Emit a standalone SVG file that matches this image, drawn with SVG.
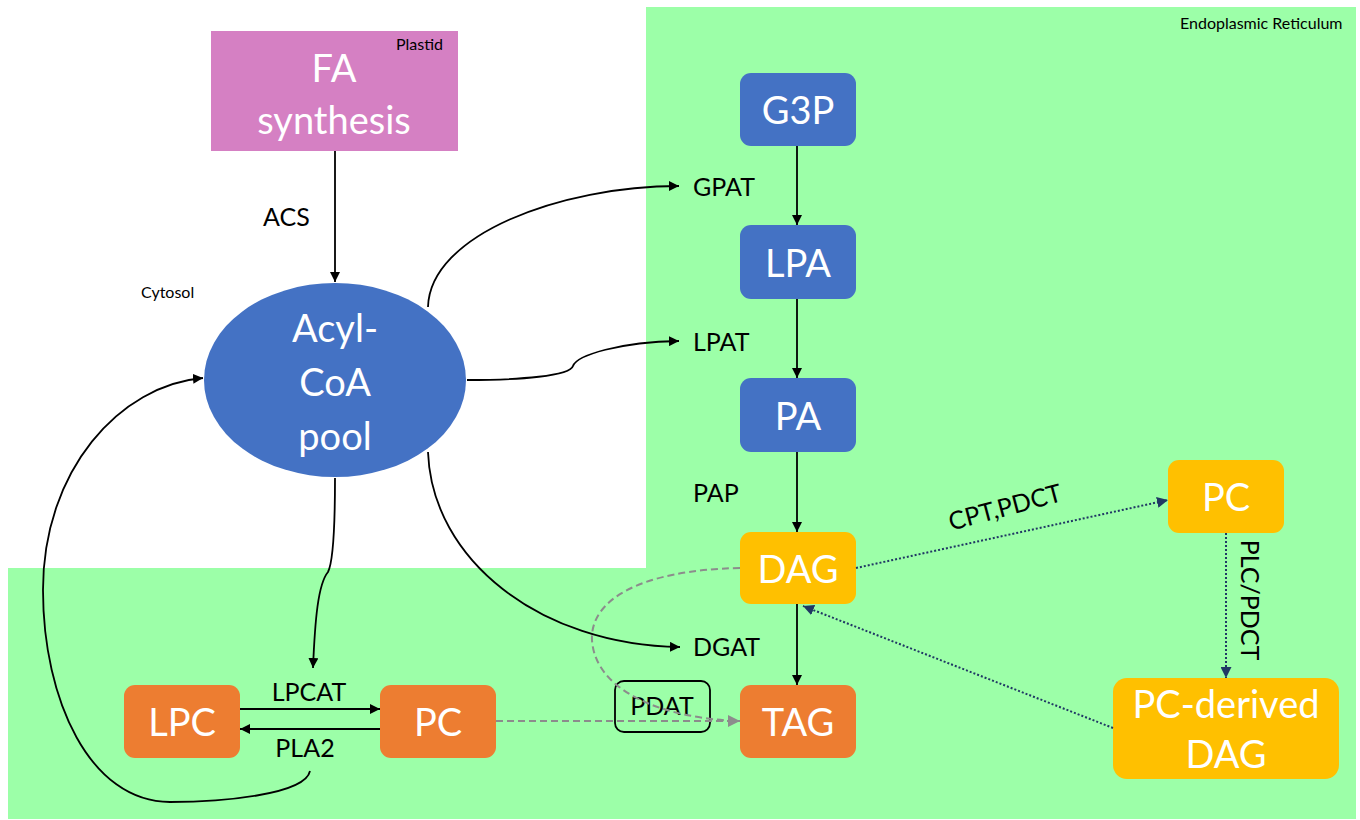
<svg xmlns="http://www.w3.org/2000/svg" width="1360" height="820" viewBox="0 0 1360 820">
<defs>
<style>
.t{font-family:Lato,"Open Sans","Liberation Sans",sans-serif;}
.nt{fill:#fff;font-size:38px;text-anchor:middle;}
.lb{fill:#000;font-size:25px;}
.sm{fill:#000;font-size:16px;}
.c{fill:none;stroke:#000;stroke-width:1.8;}
.dot{fill:none;stroke:#203864;stroke-width:2;stroke-dasharray:2 2;}
.dash{fill:none;stroke:#8c8c8c;stroke-width:2;stroke-dasharray:7 4;}
.blue{fill:#4472C4;}
.org{fill:#ED7D31;}
.yel{fill:#FFC000;}
</style>
<marker id="ab" viewBox="0 0 10 10" refX="10" refY="5" markerWidth="10" markerHeight="10" markerUnits="userSpaceOnUse" orient="auto"><path d="M0,0L10,5L0,10z" fill="#000"/></marker>
<marker id="an" viewBox="0 0 10 10" refX="10" refY="5" markerWidth="11" markerHeight="11" markerUnits="userSpaceOnUse" orient="auto"><path d="M0,0L10,5L0,10z" fill="#203864"/></marker>
<marker id="ag" viewBox="0 0 10 10" refX="10" refY="5" markerWidth="12" markerHeight="12" markerUnits="userSpaceOnUse" orient="auto"><path d="M0,0L10,5L0,10z" fill="#8c8c8c"/></marker>
</defs>
<rect width="1360" height="820" fill="#fff"/>
<g id="er-region">
<polygon points="646,7 1356,7 1356,819 8,819 8,568 646,568" fill="#9CFFA8"/>
<text class="t sm" x="1180" y="29">Endoplasmic Reticulum</text>
</g>
<text class="t sm" x="141" y="298" font-size="14">Cytosol</text>

<g id="fa-synthesis">
<rect x="211" y="31" width="247" height="120" fill="#D580C3"/>
<text class="t sm" x="396" y="50" font-size="15">Plastid</text>
<text class="t nt" x="334" y="82" font-size="42">FA</text>
<text class="t nt" x="334" y="134" font-size="42">synthesis</text>
</g>
<g id="acyl-coa">
<ellipse cx="335" cy="380" rx="131" ry="97" class="blue"/>
<text class="t nt" x="335" y="342" font-size="41">Acyl-</text>
<text class="t nt" x="335" y="396" font-size="41">CoA</text>
<text class="t nt" x="335" y="450" font-size="41">pool</text>
</g>
<g id="g3p"><rect x="740" y="73" width="116" height="73" rx="11" class="blue"/><text class="t nt" x="798" y="124">G3P</text></g>
<g id="lpa"><rect x="740" y="225" width="116" height="74" rx="11" class="blue"/><text class="t nt" x="798" y="277">LPA</text></g>
<g id="pa"><rect x="740" y="378" width="116" height="74" rx="11" class="blue"/><text class="t nt" x="798" y="430">PA</text></g>
<g id="dag"><rect x="740" y="532" width="116" height="72" rx="11" class="yel"/><text class="t nt" x="798" y="583">DAG</text></g>
<g id="tag"><rect x="740" y="685" width="116" height="73" rx="11" class="org"/><text class="t nt" x="798" y="736">TAG</text></g>
<g id="pc-right"><rect x="1168" y="460" width="116" height="73" rx="11" class="yel"/><text class="t nt" x="1226" y="511">PC</text></g>
<g id="pc-derived-dag"><rect x="1113" y="678" width="226" height="101" rx="14" class="yel"/><text class="t nt" x="1226" y="718">PC-derived</text><text class="t nt" x="1226" y="768">DAG</text></g>
<g id="lpc"><rect x="124" y="685" width="116" height="73" rx="11" class="org"/><text class="t nt" x="182" y="736">LPC</text></g>
<g id="pc-left"><rect x="380" y="685" width="116" height="73" rx="11" class="org"/><text class="t nt" x="438" y="736">PC</text></g>
<g id="pdat"><rect x="615" y="681" width="95" height="51" rx="9" fill="none" stroke="#000" stroke-width="1.8"/><text class="t lb" x="662" y="715" text-anchor="middle">PDAT</text></g>

<g id="connectors">
<path class="c" d="M335,151V282" marker-end="url(#ab)"/>
<path class="c" d="M428,307C430,235 560,186 679,186" marker-end="url(#ab)"/>
<path class="c" d="M467,380C520,380 570,376 573,366C577,355 620,342 679,341" marker-end="url(#ab)"/>
<path class="c" d="M335,478C335,520 334,560 328,572C318,584 315,620 313,668" marker-end="url(#ab)"/>
<path class="c" d="M428,452C432,560 540,645 680,647" marker-end="url(#ab)"/>
<path class="c" d="M310,771C305,795 220,802 170,802C90,802 43,700 43,590C43,470 120,385 203,378" marker-end="url(#ab)"/>
<path class="c" d="M240,709H380" marker-end="url(#ab)"/>
<path class="c" d="M380,729H240" marker-end="url(#ab)"/>
<path class="c" d="M797,146V225" marker-end="url(#ab)"/>
<path class="c" d="M797,299V378" marker-end="url(#ab)"/>
<path class="c" d="M797,452V532" marker-end="url(#ab)"/>
<path class="c" d="M797,604V685" marker-end="url(#ab)"/>
<path class="dash" d="M496,721H740" marker-end="url(#ag)"/>
<path class="dash" d="M740,568C640,570 590,600 592,640C595,690 660,718 738,721"/>
<path class="dot" d="M856,568L1168,500" marker-end="url(#an)"/>
<path class="dot" d="M1226,533V678" marker-end="url(#an)"/>
<path class="dot" d="M1113,728L803,606" marker-end="url(#an)"/>
<text class="t lb" x="263" y="226">ACS</text>
<text class="t lb" x="693" y="196">GPAT</text>
<text class="t lb" x="693" y="351">LPAT</text>
<text class="t lb" x="693" y="502">PAP</text>
<text class="t lb" x="693" y="656">DGAT</text>
<text class="t lb" x="309" y="701" text-anchor="middle">LPCAT</text>
<text class="t lb" x="305" y="757" text-anchor="middle">PLA2</text>
<text class="t lb" x="1005" y="516" text-anchor="middle" transform="rotate(-15 1005 507)">CPT,PDCT</text>
<text class="t lb" x="1250" y="609" text-anchor="middle" transform="rotate(90 1250 600)">PLC/PDCT</text>
</g>
</svg>
